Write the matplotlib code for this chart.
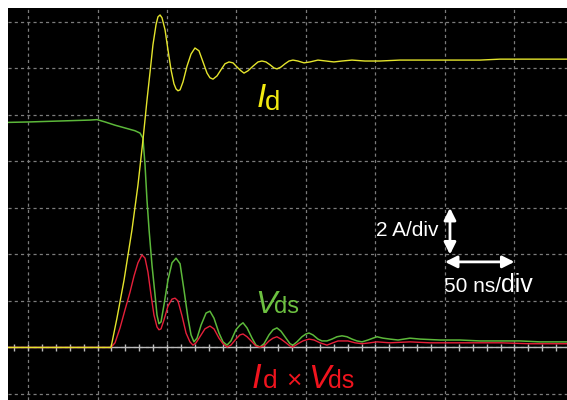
import matplotlib.pyplot as plt

# time in ns (50 ns/div), levels in screen divisions (Id: 2 A/div)
id_t = [-14.4, 59.7, 64.0, 69.1, 74.8, 79.1, 82.7, 85.6, 87.8, 89.9, 92.1, 93.5, 95.0, 96.4, 98.6,
        100.7, 102.9, 105.0, 106.5, 107.9, 109.4, 111.5, 114.4, 117.3, 120.1, 123.0, 125.9, 128.8,
        130.9, 133.1, 136.0, 138.8, 141.7, 144.6, 147.5, 150.4, 153.2, 155.4, 158.3, 161.9, 165.5,
        168.3, 171.2, 174.1, 177.0, 179.1, 182.0, 184.9, 187.8, 190.6, 194.2, 198.6, 202.9, 208.6,
        214.4, 220.1, 225.9, 233.1, 242.4, 253.2, 267.6, 282.0, 296.4, 310.8, 325.2, 339.6, 353.9,
        368.3, 387.8]
id_div = [0.0, 0.0, 0.63, 1.45, 2.53, 3.49, 4.46, 5.32, 5.92, 6.51, 6.94, 7.11, 7.15, 7.09, 6.83,
          6.40, 5.97, 5.67, 5.56, 5.52, 5.54, 5.71, 6.05, 6.31, 6.44, 6.38, 6.14, 5.90,
          5.80, 5.77, 5.84, 5.97, 6.10, 6.14, 6.12, 6.03, 5.95, 5.90, 5.95, 6.05, 6.14,
          6.16, 6.14, 6.08, 6.01, 5.99, 6.03, 6.10, 6.16, 6.18, 6.16, 6.12, 6.14, 6.18,
          6.16, 6.14, 6.16, 6.18, 6.16, 6.16, 6.18, 6.18, 6.18, 6.18, 6.18, 6.20, 6.20,
          6.20, 6.20]

vds_t = [-14.4, 1.4, 23.0, 44.6, 49.6, 55.4, 62.6, 69.8, 77.0, 80.6, 82.7, 84.2, 85.6, 87.1, 89.2,
         91.4, 92.8, 94.2, 95.7, 97.8, 100.7, 103.6, 106.5, 109.4, 112.2, 115.1, 117.3, 119.4,
         121.6, 124.5, 128.1, 130.9, 133.8, 137.4, 140.3, 143.2, 146.0, 149.6, 152.5, 154.7,
         157.6, 161.2, 164.0, 166.9, 169.8, 173.4, 176.3, 179.1, 182.0, 185.6, 188.5, 190.6,
         193.5, 197.1, 200.0, 202.2, 205.0, 208.6, 211.5, 215.1, 218.7, 222.3, 225.9, 229.5,
         233.1, 236.7, 240.3, 244.6, 248.2, 251.1, 255.4, 260.4, 266.2, 274.8, 282.0, 296.4,
         310.8, 325.2, 339.6, 353.9, 368.3, 387.8]
vds_div = [4.84, 4.85, 4.87, 4.89, 4.90, 4.85, 4.78, 4.72, 4.66, 4.61, 4.50, 3.92, 3.17, 2.53, 1.77,
           1.13, 0.70, 0.51, 0.55, 0.91, 1.45, 1.82, 1.92, 1.80, 1.24, 0.63, 0.27, 0.12,
           0.20, 0.48, 0.74, 0.78, 0.63, 0.31, 0.12, 0.05, 0.14, 0.38, 0.48, 0.53,
           0.42, 0.20, 0.05, 0.01, 0.08, 0.27, 0.38, 0.42, 0.35, 0.20, 0.08, 0.05,
           0.12, 0.23, 0.29, 0.31, 0.27, 0.18, 0.14, 0.14, 0.18, 0.23, 0.25, 0.23,
           0.18, 0.14, 0.12, 0.16, 0.20, 0.23, 0.20, 0.18, 0.16, 0.20, 0.18, 0.16,
           0.16, 0.14, 0.14, 0.14, 0.12, 0.12]

pwr_t = [-14.4, 59.7, 62.6, 66.2, 69.8, 73.4, 76.3, 79.1, 82.0, 84.2, 86.3, 88.5, 90.6, 92.8, 94.2,
         95.7, 97.8, 100.7, 103.6, 105.8, 107.9, 110.8, 113.7, 116.5, 118.7, 120.9, 123.7, 127.3,
         130.9, 133.8, 137.4, 140.3, 143.2, 146.0, 149.6, 152.5, 154.7, 157.6, 161.2, 164.0,
         166.9, 169.8, 173.4, 176.3, 179.1, 182.0, 185.6, 188.5, 190.6, 194.2, 197.8, 202.2,
         205.8, 210.1, 215.1, 219.4, 223.0, 225.9, 230.2, 235.3, 240.3, 246.0, 251.1, 260.4,
         274.8, 289.2, 310.8, 339.6, 361.2, 387.8]
pwr_div = [0.0, 0.0, 0.10, 0.42, 0.81, 1.19, 1.54, 1.82, 1.99, 1.92, 1.62, 1.13, 0.70, 0.44, 0.38,
           0.40, 0.59, 0.89, 1.04, 1.06, 1.00, 0.68, 0.31, 0.12, 0.05, 0.10, 0.23, 0.40,
           0.46, 0.40, 0.20, 0.08, 0.01, 0.05, 0.18, 0.27, 0.29, 0.23, 0.12, 0.03,
           0.01, 0.03, 0.14, 0.20, 0.23, 0.18, 0.10, 0.03, 0.01, 0.08, 0.14, 0.18,
           0.16, 0.10, 0.05, 0.10, 0.14, 0.14, 0.14, 0.10, 0.08, 0.10, 0.12, 0.10,
           0.12, 0.10, 0.10, 0.10, 0.08, 0.08]

grid_t = [0, 50, 100, 150, 200, 250, 300, 350]
grid_v = [-1, 0, 1, 2, 3, 4, 5, 6, 7]
zero_ticks = [i * 10 for i in range(-1, 39)]

YELLOW = '#e4e42c'
GREEN = '#5cb83a'
RED = '#e6203a'
FONT = ['Liberation Sans', 'DejaVu Sans']

fig = plt.figure(figsize=(5.67, 4.0), dpi=100)
ax = fig.add_axes([8 / 567, 0, 559 / 567, 392 / 400])
ax.set_facecolor('black')
ax.set_xlim(-14.4, 387.8)
ax.set_ylim(-1.13, 7.30)
ax.set_xticks([])
ax.set_yticks([])
for s in ax.spines.values():
    s.set_visible(False)

# scope graticule
for t in grid_t:
    ax.axvline(t, color='#7c7c7c', lw=0.9, dashes=(2.5, 2.5), zorder=1)
for v in grid_v:
    ax.axhline(v, color='#7c7c7c', lw=0.9, dashes=(2.5, 2.5), zorder=1)

# ground reference with small ticks
ax.axhline(0, color='#bcbcbc', lw=1.0, zorder=2)
ax.vlines(zero_ticks, -0.07, 0.07, color='#bcbcbc', lw=1.0, zorder=2)

# traces
ax.plot(vds_t, vds_div, color=GREEN, lw=1.1, zorder=3)
ax.plot(pwr_t, pwr_div, color=RED, lw=1.0, zorder=4)
ax.plot(id_t, id_div, color=YELLOW, lw=1.0, zorder=5)

# trace labels
ax.text(164.7, 5.17, 'I', color='#f2ea10', fontsize=24, style='italic', family=FONT, va='baseline')
ax.text(170.6, 5.11, 'd', color='#f2ea10', fontsize=20, family=FONT, va='baseline')

ax.text(163.3, 0.74, 'V', color='#6cc040', fontsize=23, style='italic', family=FONT, va='baseline')
ax.text(177.2, 0.74, 'ds', color='#6cc040', fontsize=17, family=FONT, va='baseline')

ax.text(161.2, -0.87, 'I', color='#f0141e', fontsize=25, style='italic', family=FONT, va='baseline')
ax.text(169.1, -0.87, 'd', color='#f0141e', fontsize=19, family=FONT, va='baseline')
ax.text(185.5, -0.87, '\u00d7', color='#f0141e', fontsize=19, family=FONT, va='baseline')
ax.text(201.5, -0.87, 'V', color='#f0141e', fontsize=24, style='italic', family=FONT, va='baseline')
ax.text(216.0, -0.87, 'ds', color='#f0141e', fontsize=18, family=FONT, va='baseline')

# scale indicators
arrow = dict(arrowstyle='<|-|>', color='white', lw=2.0, mutation_scale=18, shrinkA=0, shrinkB=0)
ax.annotate('', xy=(303.6, 3.0), xytext=(303.6, 2.0), arrowprops=arrow)
ax.annotate('', xy=(350, 1.84), xytext=(300, 1.84), arrowprops=arrow)
ax.text(250.4, 2.51, '2 A/div', color='white', fontsize=15, family=FONT, va='center')
ax.text(299.3, 1.19, '50 ns/', color='white', fontsize=15, family=FONT, va='baseline')
ax.text(340.3, 1.19, 'div', color='white', fontsize=18, family=FONT, va='baseline')

fig.savefig('out.png', dpi=100, facecolor='white')
